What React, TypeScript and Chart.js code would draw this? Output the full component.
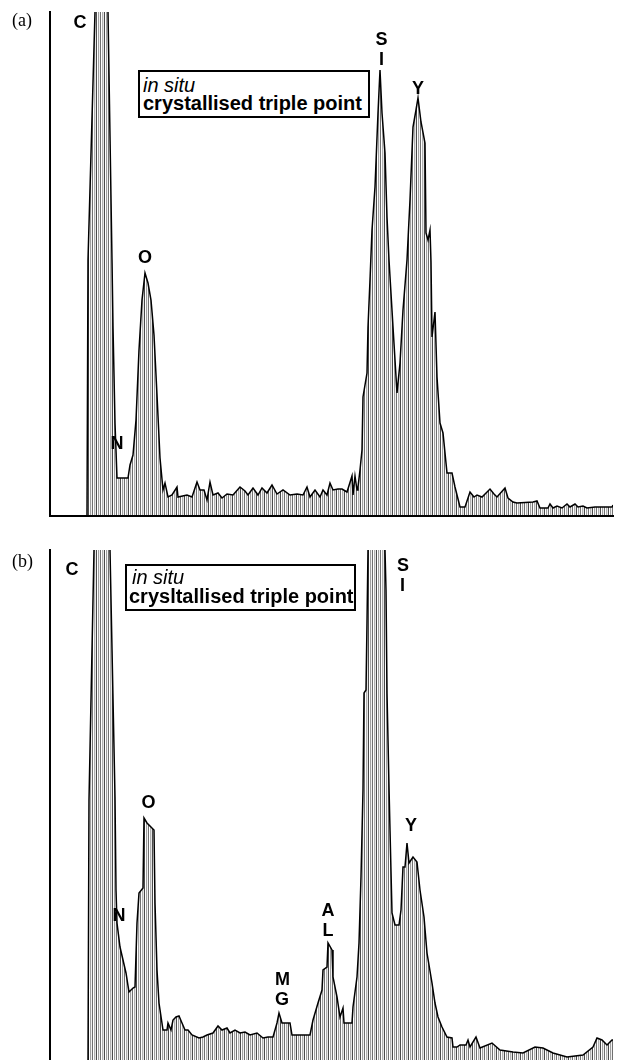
import React, { useEffect, useRef } from "react";
import { Chart, registerables } from "chart.js";

Chart.register(...registerables);

// ---- Panel (a): channel positions and counts ----
const chanA = [37, 38, 45, 51, 58, 62, 63, 65, 67, 78, 80, 83, 86, 89, 92, 95, 98, 101, 104, 107, 110, 113, 115, 118, 122, 127, 128, 137, 142, 147, 150, 154, 157, 160, 163, 168, 172, 177, 183, 190, 195, 198, 203, 208, 212, 217, 222, 227, 233, 240, 247, 253, 257, 260, 265, 270, 273, 277, 280, 283, 288, 292, 297, 302, 303, 305, 307, 308, 310, 312, 313, 317, 318, 320, 322, 325, 328, 330, 332, 335, 337, 339, 343, 347, 350, 353, 357, 360, 363, 366, 368, 371, 375, 376, 378, 380, 381, 382, 385, 387, 390, 393, 397, 402, 405, 410, 415, 420, 424, 427, 432, 440, 444, 447, 455, 458, 463, 467, 483, 487, 490, 498, 500, 503, 507, 512, 517, 520, 525, 528, 533, 537, 545, 555, 562, 563];
const cntA = [0, 256, 504, 756, 504, 256, 189, 93, 38, 38, 51, 61, 96, 166, 216, 243, 233, 216, 181, 121, 58, 26, 33, 19, 21, 29, 19, 21, 19, 34, 26, 26, 16, 34, 21, 23, 18, 22, 21, 29, 25, 21, 28, 21, 28, 23, 31, 22, 26, 21, 22, 21, 29, 19, 26, 19, 26, 21, 33, 26, 27, 27, 24, 40, 21, 40, 26, 29, 46, 66, 119, 143, 189, 236, 286, 329, 403, 446, 403, 363, 299, 256, 189, 123, 153, 206, 256, 316, 389, 406, 418, 394, 373, 283, 276, 286, 254, 179, 204, 139, 93, 83, 43, 43, 29, 9, 9, 24, 19, 21, 19, 27, 22, 19, 28, 18, 14, 13, 14, 15, 8, 8, 12, 8, 10, 8, 12, 9, 12, 9, 10, 8, 9, 9, 9, 11];

// ---- Panel (b) ----
const chanB = [38, 39, 44, 51, 60, 65, 66, 67, 70, 76, 79, 83, 85, 87, 89, 93, 94, 97, 104, 105, 107, 109, 113, 117, 118, 121, 123, 126, 129, 132, 135, 138, 142, 149, 153, 157, 163, 168, 172, 177, 180, 185, 190, 195, 200, 207, 213, 218, 223, 227, 229, 232, 240, 242, 260, 263, 268, 272, 273, 277, 278, 282, 283, 287, 290, 293, 294, 302, 303, 307, 309, 311, 313, 314, 316, 317, 318, 320, 326, 332, 335, 336, 337, 338, 339, 340, 342, 345, 349, 351, 353, 355, 357, 359, 363, 367, 370, 374, 377, 382, 385, 388, 392, 397, 402, 403, 407, 410, 416, 418, 420, 426, 430, 442, 450, 463, 473, 485, 493, 503, 517, 533, 543, 547, 552, 557, 562, 563];
const cntB = [0, 266, 516, 950, 516, 269, 176, 143, 119, 93, 74, 78, 79, 143, 173, 178, 248, 243, 236, 163, 96, 63, 36, 36, 43, 36, 46, 49, 50, 43, 36, 36, 31, 28, 29, 31, 33, 40, 36, 38, 33, 36, 33, 34, 31, 33, 28, 29, 29, 43, 53, 43, 43, 31, 31, 46, 63, 76, 96, 99, 123, 116, 89, 69, 49, 58, 43, 43, 59, 89, 123, 189, 276, 373, 376, 443, 516, 700, 740, 720, 516, 476, 373, 326, 279, 236, 153, 141, 141, 156, 199, 199, 223, 203, 209, 204, 176, 149, 113, 83, 63, 49, 39, 29, 28, 19, 19, 21, 21, 26, 19, 29, 18, 23, 16, 14, 13, 19, 18, 13, 9, 11, 19, 28, 26, 21, 26, 26];

// ---- Element labels (text, anchor channel, anchor count) ----
const labelsA = ["C", "N", "O", "S", "I", "Y"];
const labelChA = [30, 67, 95, 331.5, 331.5, 368];
const labelCntA = [494, 73, 259, 477.5, 457.5, 428.5];

const labelsB = ["C", "N", "O", "M", "G", "A", "L", "S", "I", "Y"];
const labelChB = [22, 69, 98.5, 232.5, 232, 278, 278, 353, 352.5, 361];
const labelCntB = [497.5, 151, 264.5, 87.5, 67.5, 156, 136, 501.5, 481.5, 241.5];

const axisMaxA = 504;
const axisMinB = 6;
const axisMaxB = 516;
const chanMax = 563;

const FONT = '"Liberation Sans", Arial, Helvetica, sans-serif';

function makeHatch(): CanvasPattern | string {
  const c = document.createElement("canvas");
  const cols = ["#4a4a4a", "#ffffff", "#a0a0a0", "#f0f0f0", "#707070", "#ffffff", "#b0b0b0", "#e4e4e4"];
  c.width = cols.length;
  c.height = 1;
  const g = c.getContext("2d");
  if (!g) return "#bbbbbb";
  cols.forEach((col, i) => {
    g.fillStyle = col;
    g.fillRect(i, 0, 1, 1);
  });
  return g.createPattern(c, "repeat") || "#bbbbbb";
}

const peakLabelPlugin = {
  id: "peakLabels",
  afterDatasetsDraw(chart: any, _args: any, opts: any) {
    const { ctx, scales } = chart;
    const xs = scales.x;
    const ys = scales.y;
    const size = 18;
    ctx.save();
    ctx.font = `bold ${size}px ${FONT}`;
    ctx.fillStyle = "#000";
    ctx.textAlign = "center";
    ctx.textBaseline = "alphabetic";
    (opts.names || []).forEach((n: string, i: number) => {
      const px = xs.getPixelForValue(opts.ch[i]);
      const py = ys.getPixelForValue(opts.cnt[i]);
      ctx.fillText(n, px, py + (size * 0.716) / 2);
    });
    ctx.restore();
  },
};

function buildConfig(which: "a" | "b", hatch: any): any {
  const chan = which === "a" ? chanA : chanB;
  const cnt = which === "a" ? cntA : cntB;
  const pts = chan.map((c, i) => ({ x: c, y: cnt[i] }));
  return {
    type: "line",
    data: {
      datasets: [
        {
          data: pts,
          borderColor: "#000",
          borderWidth: 1.5,
          pointRadius: 0,
          tension: 0,
          fill: which === "a" ? "origin" : "start",
          backgroundColor: hatch,
        },
      ],
    },
    options: {
      responsive: false,
      animation: false,
      events: [],
      layout: {
        padding: which === "a"
          ? { left: 50, right: 4, top: 12, bottom: 14 }
          : { left: 50, right: 4, top: 20, bottom: 0 },
      },
      plugins: {
        legend: { display: false },
        tooltip: { enabled: false },
        peakLabels: {
          names: which === "a" ? labelsA : labelsB,
          ch: which === "a" ? labelChA : labelChB,
          cnt: which === "a" ? labelCntA : labelCntB,
        },
      },
      scales: {
        x: {
          type: "linear",
          min: 0,
          max: chanMax,
          display: which === "a",
          ticks: { display: false },
          grid: { display: false, drawTicks: false },
          border: { display: true, color: "#000", width: 2, z: 1 },
          afterFit: (s: any) => {
            s.height = 0;
          },
        },
        y: {
          type: "linear",
          min: which === "a" ? 0 : axisMinB,
          max: which === "a" ? axisMaxA : axisMaxB,
          ticks: { display: false },
          grid: { display: false, drawTicks: false },
          border: { display: true, color: "#000", width: 2, z: 1 },
          afterFit: (s: any) => {
            s.width = 0;
          },
        },
      },
    },
    plugins: [peakLabelPlugin],
  };
}

function SpectrumCanvas({ which, top }: { which: "a" | "b"; top: number }) {
  const ref = useRef<HTMLCanvasElement | null>(null);
  useEffect(() => {
    if (!ref.current) return;
    const chart = new Chart(ref.current, buildConfig(which, makeHatch()));
    return () => chart.destroy();
  }, [which]);
  return (
    <canvas
      ref={ref}
      width={617}
      height={530}
      style={{ position: "absolute", left: 0, top, width: 617, height: 530, display: "block" }}
    />
  );
}

function LegendBox({ left, top, width, height, lines }: any) {
  return (
    <div
      style={{
        position: "absolute",
        left,
        top,
        width,
        height,
        boxSizing: "border-box",
        border: "2px solid #000",
        background: "#fff",
      }}
    >
      {lines.map((ln: any, i: number) => (
        <div
          key={i}
          style={{
            position: "absolute",
            left: ln.x,
            top: ln.y,
            whiteSpace: "nowrap",
            fontFamily: FONT,
            fontSize: 20,
            lineHeight: "20px",
            fontStyle: ln.italic ? "italic" : "normal",
            fontWeight: ln.bold ? 700 : 400,
            color: "#000",
          }}
        >
          {ln.text}
        </div>
      ))}
    </div>
  );
}

export default function App() {
  const panelLabel: React.CSSProperties = {
    position: "absolute",
    fontFamily: '"Liberation Serif", "Times New Roman", serif',
    fontSize: 18,
    lineHeight: "18px",
    color: "#000",
  };
  return (
    <div
      style={{
        position: "absolute",
        left: 0,
        top: 0,
        width: 617,
        height: 1060,
        overflow: "hidden",
        background: "#fff",
      }}
    >
      <SpectrumCanvas which="a" top={0} />
      <SpectrumCanvas which="b" top={530} />
      <div style={{ ...panelLabel, left: 12, top: 11 }}>(a)</div>
      <div style={{ ...panelLabel, left: 12, top: 552 }}>(b)</div>
      <LegendBox
        left={138}
        top={70}
        width={232}
        height={48}
        lines={[
          { text: "in situ", italic: true, x: 3, y: 3 },
          { text: "crystallised triple point", bold: true, x: 3, y: 21 },
        ]}
      />
      <LegendBox
        left={125}
        top={564}
        width={231}
        height={47}
        lines={[
          { text: "in situ", italic: true, x: 5, y: 1 },
          { text: "crysltallised triple point", bold: true, x: 2, y: 20 },
        ]}
      />
    </div>
  );
}
